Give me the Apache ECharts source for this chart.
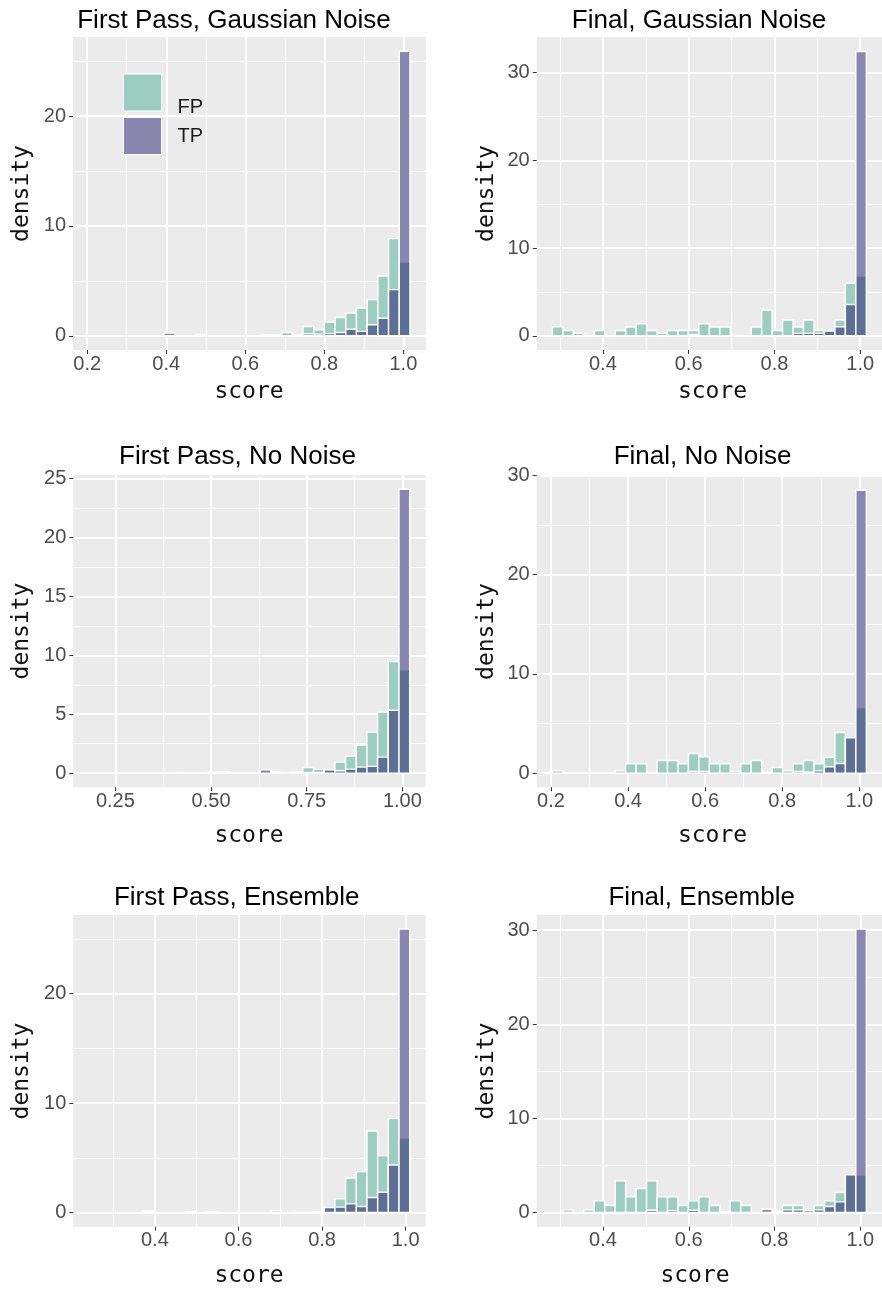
<!DOCTYPE html>
<html>
<head>
<meta charset="utf-8">
<title>Score density, first pass vs final</title>
<script src="https://cdn.jsdelivr.net/npm/echarts@6/dist/echarts.min.js"></script>
<style>
    html, body { margin: 0; padding: 0; background: #fff; }
    #chart { width: 882px; height: 1289px; }
</style>
</head>
<body>
<div id="chart"></div>
<script>

// density per bin, 30 bins each, read left to right
const fpFirstGauss = [0, 0, 0, 0, 0, 0, 0, 0, 0, 0, 0.12, 0, 0, 0, 0, 0, 0.05, 0.05, 0.3, 0.05, 0.85, 0.55, 1.25, 1.67, 2.07, 2.53, 3.29, 5.44, 8.84, 6.65];
const tpFirstGauss = [0, 0, 0, 0, 0, 0, 0, 0.25, 0, 0, 0, 0, 0, 0, 0, 0, 0.05, 0.08, 0, 0.12, 0.18, 0.15, 0.2, 0.3, 0.6, 0.4, 1.0, 1.6, 4.2, 25.9];

const fpFinalGauss = [1.03, 0.6, 0.27, 0, 0.6, 0, 0.6, 1.0, 1.37, 0.6, 0.27, 0.6, 0.6, 0.6, 1.37, 1.0, 1.0, 0.05, 0, 1.0, 2.93, 0.6, 1.8, 1.0, 1.8, 0.6, 0.55, 1.8, 5.98, 6.74];
const tpFinalGauss = [0, 0, 0, 0, 0, 0, 0, 0, 0, 0, 0, 0, 0, 0.15, 0, 0, 0, 0, 0, 0, 0, 0, 0, 0.27, 0.27, 0.27, 0.55, 1.03, 3.56, 32.4];

const fpFirstClean = [0, 0, 0, 0, 0, 0, 0, 0, 0.05, 0.02, 0.02, 0, 0.12, 0.02, 0.02, 0.02, 0.05, 0, 0.05, 0, 0.48, 0.34, 0.2, 0.93, 1.44, 2.38, 3.48, 5.18, 9.46, 8.7];
const tpFirstClean = [0, 0, 0, 0, 0, 0, 0, 0, 0, 0, 0, 0.1, 0, 0, 0, 0, 0.28, 0.11, 0.03, 0.11, 0.05, 0.05, 0.28, 0.2, 0.34, 0.51, 0.57, 1.36, 5.33, 24.1];

const fpFinalClean = [0.23, 0, 0, 0, 0, 0, 0.23, 0.94, 0.94, 0, 1.27, 1.27, 0.94, 1.98, 1.64, 0.94, 0.94, 0, 0.94, 1.27, 0.07, 0.57, 0.23, 0.94, 1.27, 0.94, 1.6, 4.1, 3.55, 6.54];
const tpFinalClean = [0, 0, 0, 0, 0, 0, 0, 0, 0, 0, 0, 0, 0, 0.17, 0.17, 0, 0, 0.15, 0, 0, 0, 0, 0, 0.17, 0.1, 0.23, 0.64, 0.97, 3.55, 28.5];

const fpFirstEns = [0, 0, 0, 0, 0, 0, 0, 0, 0, 0, 0, 0.03, 0, 0, 0, 0, 0, 0, 0, 0.03, 0.03, 0.03, 0.4, 1.25, 3.13, 3.74, 7.45, 5.2, 8.6, 6.75];
const tpFirstEns = [0, 0, 0, 0, 0, 0.12, 0, 0, 0, 0.08, 0, 0.06, 0, 0, 0, 0, 0, 0.15, 0, 0, 0, 0.03, 0.46, 0.49, 0.79, 0.55, 1.37, 1.85, 4.35, 25.9];

const fpFinalEns = [0, 0.28, 0, 0.28, 1.24, 0.74, 3.37, 1.67, 2.55, 3.37, 1.67, 1.67, 0.74, 1.24, 1.67, 0.74, 0.1, 1.24, 0.74, 0, 0, 0.1, 0.74, 0.74, 0.15, 0.74, 1.24, 2.13, 4.0, 3.9];
const tpFinalEns = [0, 0, 0, 0, 0, 0, 0, 0, 0, 0.25, 0, 0.2, 0, 0.25, 0, 0, 0, 0, 0, 0, 0.35, 0.05, 0.28, 0.28, 0.21, 0.28, 0.64, 1.13, 4.0, 30.1];

// bin grid: [left edge of first bin, bin width]
const binsFirstGauss = [0.2046, 0.02707];
const binsFinalGauss = [0.2823, 0.0244];
const binsFirstClean = [0.182, 0.0279];
const binsFinalClean = [0.2037, 0.02715];
const binsFirstEns = [0.243, 0.02556];
const binsFinalEns = [0.282, 0.0244];

// tick values
const xTicksTenths = [0.2, 0.4, 0.6, 0.8, 1.0];
const xTicksFrom04 = [0.4, 0.6, 0.8, 1.0];
const xMinorTenths = [0.3, 0.5, 0.7, 0.9];
const xTicksQuarters = [0.25, 0.5, 0.75, 1.0];
const xMinorQuarters = [0.375, 0.625, 0.875];
const yTicksTo20 = [0, 10, 20];
const yTicksTo30 = [0, 10, 20, 30];
const yMinorTens = [5, 15, 25];
const yTicksFives = [0, 5, 10, 15, 20, 25];
const yMinorFives = [2.5, 7.5, 12.5, 17.5, 22.5];

const FP_COLOR = '#9ccdbf';
const TP_COLOR = '#8986b0';
const BOTH_COLOR = '#5e6f96';
const TICK_FONT = '"Liberation Sans", Arial, sans-serif';
const NAME_FONT = '"DejaVu Sans Mono", monospace';

const panels = [
    {
        title: 'First Pass, Gaussian Noise', fp: fpFirstGauss, tp: tpFirstGauss, bins: binsFirstGauss,
        xRange: [0.164, 1.0573], yRange: [-1.295, 27.195],
        xMajor: xTicksTenths, xMinor: xMinorTenths, xDigits: 1, yMajor: yTicksTo20, yMinor: yMinorTens,
        box: [73, 37, 353, 313], titlePos: [234, 20.5], xNamePos: [249, 392], yNamePos: [22, 193.5],
    },
    {
        title: 'Final, Gaussian Noise', fp: fpFinalGauss, tp: tpFinalGauss, bins: binsFinalGauss,
        xRange: [0.2457, 1.0509], yRange: [-1.62, 34.02],
        xMajor: xTicksFrom04, xMinor: xMinorTenths, xDigits: 1, yMajor: yTicksTo30, yMinor: yMinorTens,
        box: [536.7, 37.3, 352.3, 312.7], titlePos: [699, 20.7], xNamePos: [712.5, 392], yNamePos: [487, 193.5],
    },
    {
        title: 'First Pass, No Noise', fp: fpFirstClean, tp: tpFirstClean, bins: binsFirstClean,
        xRange: [0.1401, 1.0609], yRange: [-1.205, 25.305],
        xMajor: xTicksQuarters, xMinor: xMinorQuarters, xDigits: 2, yMajor: yTicksFives, yMinor: yMinorFives,
        box: [73.3, 475, 352.4, 312.3], titlePos: [237.5, 457], xNamePos: [249, 836], yNamePos: [22, 631],
    },
    {
        title: 'Final, No Noise', fp: fpFinalClean, tp: tpFinalClean, bins: binsFinalClean,
        xRange: [0.163, 1.0589], yRange: [-1.425, 30],
        xMajor: xTicksTenths, xMinor: xMinorTenths, xDigits: 1, yMajor: yTicksTo30, yMinor: yMinorTens,
        box: [536.7, 475.3, 352.3, 312], titlePos: [702.5, 457], xNamePos: [712.5, 836], yNamePos: [487, 631.5],
    },
    {
        title: 'First Pass, Ensemble', fp: fpFirstEns, tp: tpFirstEns, bins: binsFirstEns,
        xRange: [0.2047, 1.0481], yRange: [-1.295, 27.195],
        xMajor: xTicksFrom04, xMinor: xMinorTenths, xDigits: 1, yMajor: yTicksTo20, yMinor: yMinorTens,
        box: [73.3, 915, 352.4, 311.7], titlePos: [236.7, 898], xNamePos: [249, 1276], yNamePos: [22, 1071],
    },
    {
        title: 'Final, Ensemble', fp: fpFinalEns, tp: tpFinalEns, bins: binsFinalEns,
        xRange: [0.2454, 1.0506], yRange: [-1.505, 31.605],
        xMajor: xTicksFrom04, xMinor: xMinorTenths, xDigits: 1, yMajor: yTicksTo30, yMinor: yMinorTens,
        box: [536.7, 915, 352.1, 311.7], titlePos: [701.7, 898], xNamePos: [695, 1276], yNamePos: [487, 1071],
    },
];


const renderFP = (params, api) => {
    const v = api.value(2);
    if (!v) {
        return;
    }
    const a = api.coord([api.value(0), 0]);
    const b = api.coord([api.value(1), v]);
    return {
        type: 'rect',
        shape: { x: a[0], y: b[1], width: b[0] - a[0], height: a[1] - b[1] },
        style: { fill: FP_COLOR, stroke: '#fff', lineWidth: 1.4 },
    };
};

// TP bar, the part shared with FP in the darker tone, then the TP outline on top
const renderTP = (params, api) => {
    const v = api.value(2);
    const f = api.value(3);
    if (!v) {
        return;
    }
    const a = api.coord([api.value(0), 0]);
    const b = api.coord([api.value(1), v]);
    const m = api.coord([api.value(1), Math.min(v, f)]);
    const shape = { x: a[0], y: b[1], width: b[0] - a[0], height: a[1] - b[1] };
    const children = [{ type: 'rect', shape, style: { fill: TP_COLOR } }];
    if (f > 0) {
        children.push({
            type: 'rect',
            shape: { x: a[0], y: m[1], width: b[0] - a[0], height: a[1] - m[1] },
            style: { fill: BOTH_COLOR },
        });
    }
    children.push({ type: 'rect', shape, style: { fill: 'none', stroke: '#fff', lineWidth: 1.4 } });
    return { type: 'group', children };
};


const grids = [];
const xAxes = [];
const yAxes = [];
const series = [];
const texts = [];

panels.forEach((p, i) => {

    const [left, top, width, height] = p.box;

    grids.push({
        left, top, width, height,
        show: true,
        backgroundColor: '#ebebeb',
        borderWidth: 0,
    });

    const xBase = { gridIndex: i, type: 'value', min: p.xRange[0], max: p.xRange[1], position: 'bottom' };
    const yBase = { gridIndex: i, type: 'value', min: p.yRange[0], max: p.yRange[1], position: 'left' };
    const tick = { show: true, length: 4, lineStyle: { color: '#333', width: 1 } };
    const label = { color: '#4d4d4d', fontSize: 20, fontFamily: TICK_FONT };

    xAxes.push({
        ...xBase,
        axisLine: { show: false, onZero: false },
        axisTick: { ...tick, customValues: p.xMajor },
        axisLabel: { ...label, customValues: p.xMajor, margin: 4, formatter: (v) => v.toFixed(p.xDigits) },
        splitLine: { show: true, lineStyle: { color: '#fff', width: 2 } },
    });
    xAxes.push({
        ...xBase,
        axisLine: { show: false, onZero: false },
        axisTick: { show: false, customValues: p.xMinor },
        axisLabel: { show: false },
        splitLine: { show: true, lineStyle: { color: '#fff', width: 1 } },
    });

    yAxes.push({
        ...yBase,
        axisLine: { show: false, onZero: false },
        axisTick: { ...tick, customValues: p.yMajor },
        axisLabel: { ...label, customValues: p.yMajor, margin: 7, formatter: (v) => String(v) },
        splitLine: { show: true, lineStyle: { color: '#fff', width: 2 } },
    });
    yAxes.push({
        ...yBase,
        axisLine: { show: false, onZero: false },
        axisTick: { show: false, customValues: p.yMinor },
        axisLabel: { show: false },
        splitLine: { show: true, lineStyle: { color: '#fff', width: 1 } },
    });

    const [start, step] = p.bins;
    const edges = (k) => [start + k * step, start + (k + 1) * step];

    series.push({
        type: 'custom',
        name: 'FP',
        xAxisIndex: 2 * i,
        yAxisIndex: 2 * i,
        renderItem: renderFP,
        encode: { x: [0, 1], y: 2 },
        itemStyle: { color: FP_COLOR },
        silent: true,
        data: p.fp.map((v, k) => [...edges(k), v]),
    });
    series.push({
        type: 'custom',
        name: 'TP',
        xAxisIndex: 2 * i,
        yAxisIndex: 2 * i,
        renderItem: renderTP,
        encode: { x: [0, 1], y: 2 },
        itemStyle: { color: TP_COLOR },
        silent: true,
        data: p.tp.map((v, k) => [...edges(k), v, p.fp[k]]),
    });

    texts.push({
        type: 'text', x: p.titlePos[0], y: p.titlePos[1],
        style: { text: p.title, fontSize: 26, fontFamily: TICK_FONT, fill: '#000', align: 'center', verticalAlign: 'middle' },
    });
    texts.push({
        type: 'text', x: p.xNamePos[0], y: p.xNamePos[1],
        style: { text: 'score', fontSize: 23, fontFamily: NAME_FONT, fill: '#111', align: 'center', verticalAlign: 'middle' },
    });
    texts.push({
        type: 'text', x: p.yNamePos[0], y: p.yNamePos[1], rotation: Math.PI / 2,
        style: { text: 'density', fontSize: 23, fontFamily: NAME_FONT, fill: '#111', align: 'center', verticalAlign: 'middle' },
    });
});


const chart = echarts.init(document.getElementById('chart'), null, { renderer: 'canvas' });

chart.setOption({
    animation: false,
    backgroundColor: '#fff',
    grid: grids,
    xAxis: xAxes,
    yAxis: yAxes,
    series,
    graphic: texts,
    legend: {
        // FP label sits low beside its key, as in the source figure;
        // the two-line FP text makes its item taller, so top and gap compensate
        left: 123,
        top: 62.5,
        orient: 'vertical',
        padding: 0,
        itemWidth: 38,
        itemHeight: 37,
        itemGap: -5.5,
        icon: 'rect',
        selectedMode: false,
        itemStyle: { borderColor: '#fff', borderWidth: 1 },
        formatter: (name) => (name === 'FP' ? '\n' + name : name),
        textStyle: { fontFamily: TICK_FONT, fontSize: 20, color: '#1a1a1a', lineHeight: 30, padding: [0, 0, 0, 11] },
        data: ['FP', 'TP'],
    },
});

</script>
</body>
</html>
